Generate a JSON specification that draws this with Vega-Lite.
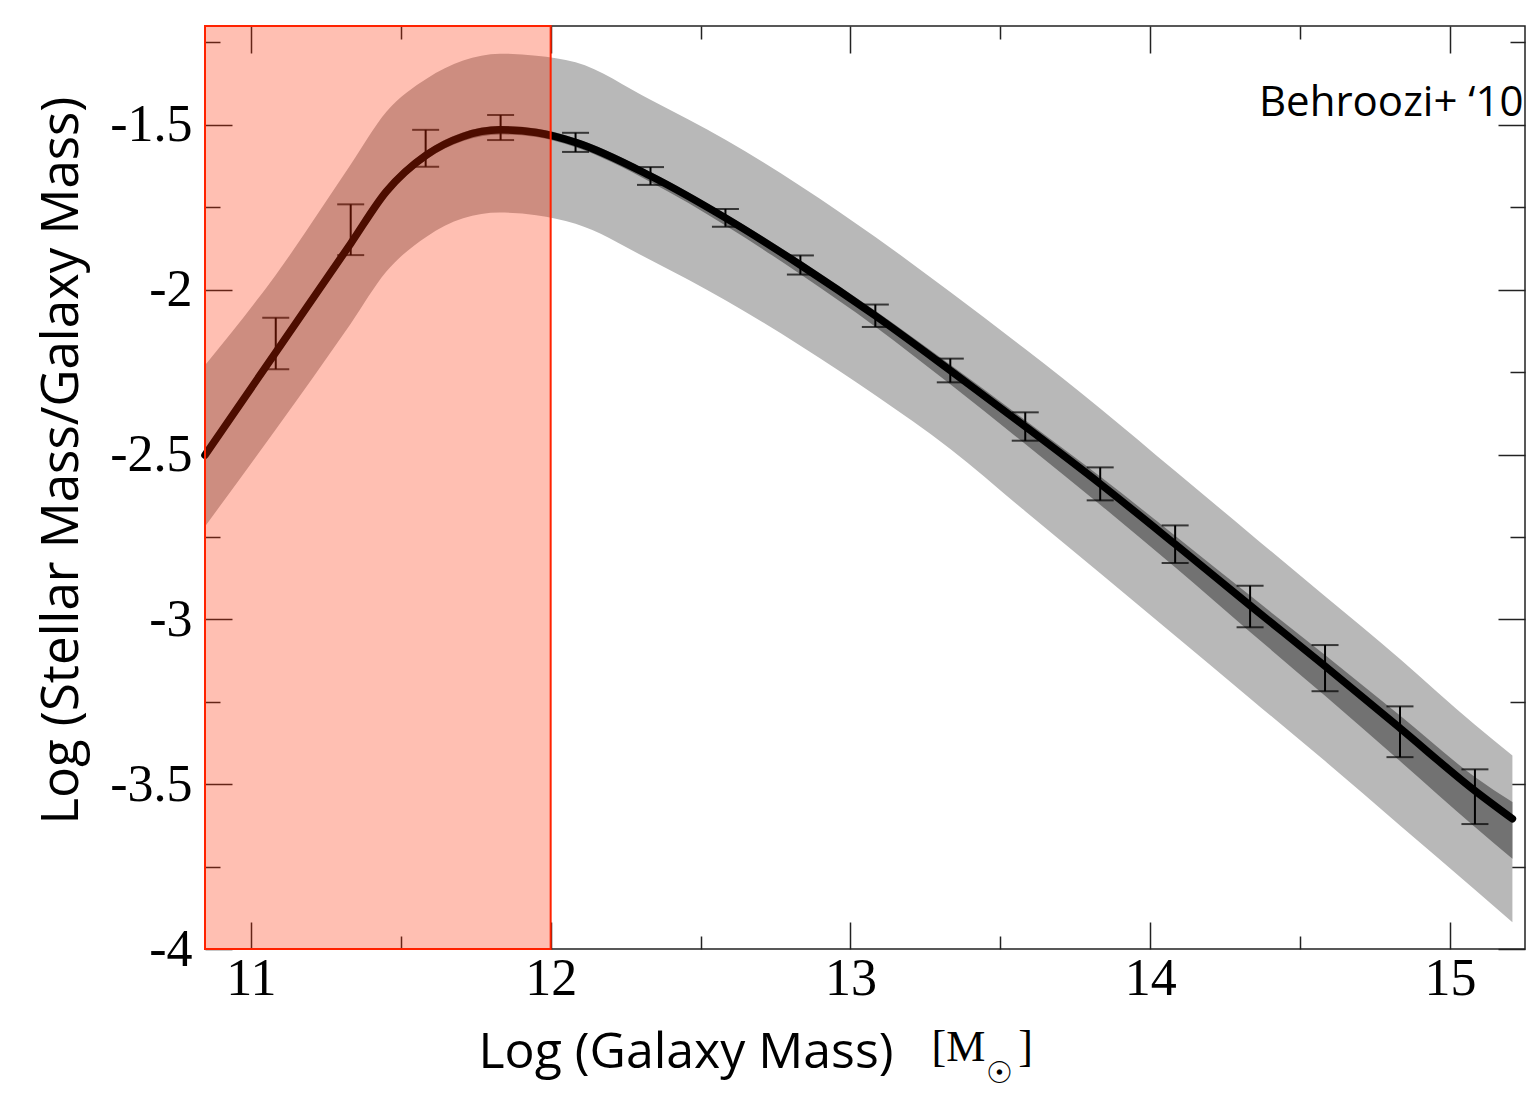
{
  "$schema": "https://vega.github.io/schema/vega-lite/v6.json",
  "width": 1320,
  "height": 923,
  "autosize": {"type": "none"},
  "padding": {"left": 205, "top": 26, "right": 12, "bottom": 168},
  "background": "white",
  "config": {"view": {"stroke": "#222222", "strokeWidth": 1.5}},
  "datasets": {
    "curve": [
      {"x": 10.847, "line": -2.502, "ohi": -2.229, "olo": -2.718, "ihi": -2.487, "ilo": -2.518},
      {"x": 11.083, "line": -2.19, "ohi": -1.955, "olo": -2.424, "ihi": -2.175, "ilo": -2.206},
      {"x": 11.333, "line": -1.86, "ohi": -1.62, "olo": -2.103, "ihi": -1.845, "ilo": -1.876},
      {"x": 11.452, "line": -1.702, "ohi": -1.46, "olo": -1.945, "ihi": -1.688, "ilo": -1.717},
      {"x": 11.586, "line": -1.591, "ohi": -1.36, "olo": -1.839, "ihi": -1.578, "ilo": -1.605},
      {"x": 11.708, "line": -1.535, "ohi": -1.305, "olo": -1.783, "ihi": -1.522, "ilo": -1.549},
      {"x": 11.83, "line": -1.515, "ohi": -1.284, "olo": -1.766, "ihi": -1.503, "ilo": -1.529},
      {"x": 11.952, "line": -1.523, "ohi": -1.29, "olo": -1.774, "ihi": -1.511, "ilo": -1.537},
      {"x": 12.083, "line": -1.553, "ohi": -1.31, "olo": -1.8, "ihi": -1.541, "ilo": -1.568},
      {"x": 12.333, "line": -1.655, "ohi": -1.424, "olo": -1.91, "ihi": -1.643, "ilo": -1.673},
      {"x": 12.583, "line": -1.782, "ohi": -1.545, "olo": -2.032, "ihi": -1.77, "ilo": -1.805},
      {"x": 12.833, "line": -1.925, "ohi": -1.685, "olo": -2.17, "ihi": -1.911, "ilo": -1.953},
      {"x": 13.083, "line": -2.079, "ohi": -1.84, "olo": -2.32, "ihi": -2.064, "ilo": -2.112},
      {"x": 13.333, "line": -2.245, "ohi": -2.007, "olo": -2.483, "ihi": -2.228, "ilo": -2.287},
      {"x": 13.583, "line": -2.415, "ohi": -2.18, "olo": -2.672, "ihi": -2.396, "ilo": -2.468},
      {"x": 13.833, "line": -2.589, "ohi": -2.36, "olo": -2.86, "ihi": -2.567, "ilo": -2.652},
      {"x": 14.083, "line": -2.772, "ohi": -2.55, "olo": -3.05, "ihi": -2.746, "ilo": -2.842},
      {"x": 14.333, "line": -2.958, "ohi": -2.74, "olo": -3.24, "ihi": -2.928, "ilo": -3.038},
      {"x": 14.583, "line": -3.142, "ohi": -2.93, "olo": -3.43, "ihi": -3.108, "ilo": -3.232},
      {"x": 14.833, "line": -3.33, "ohi": -3.12, "olo": -3.625, "ihi": -3.292, "ilo": -3.43},
      {"x": 15.083, "line": -3.52, "ohi": -3.32, "olo": -3.82, "ihi": -3.478, "ilo": -3.63},
      {"x": 15.208, "line": -3.605, "ohi": -3.413, "olo": -3.919, "ihi": -3.554, "ilo": -3.726}
    ],
    "errors": [
      {"x": 11.083, "ehi": -2.085, "elo": -2.241},
      {"x": 11.333, "ehi": -1.741, "elo": -1.895},
      {"x": 11.583, "ehi": -1.515, "elo": -1.627},
      {"x": 11.833, "ehi": -1.47, "elo": -1.546},
      {"x": 12.083, "ehi": -1.524, "elo": -1.582},
      {"x": 12.333, "ehi": -1.628, "elo": -1.682},
      {"x": 12.583, "ehi": -1.755, "elo": -1.809},
      {"x": 12.833, "ehi": -1.896, "elo": -1.954},
      {"x": 13.083, "ehi": -2.045, "elo": -2.113},
      {"x": 13.333, "ehi": -2.209, "elo": -2.281},
      {"x": 13.583, "ehi": -2.372, "elo": -2.458},
      {"x": 13.833, "ehi": -2.539, "elo": -2.639},
      {"x": 14.083, "ehi": -2.715, "elo": -2.829},
      {"x": 14.333, "ehi": -2.898, "elo": -3.024},
      {"x": 14.583, "ehi": -3.078, "elo": -3.218},
      {"x": 14.833, "ehi": -3.264, "elo": -3.418},
      {"x": 15.083, "ehi": -3.455, "elo": -3.621}
    ],
    "region": [
      {"x1": 10.847, "x2": 12.0, "y1": -4, "y2": -1.2}
    ],
    "notes": [
      {"x": 15.245, "y": -1.435, "label": "Behroozi+ ‘10"}
    ]
  },
  "resolve": {"axis": {"x": "independent", "y": "independent"}},
  "layer": [
    {
      "data": {"name": "curve"},
      "mark": {"type": "area", "color": "#b8b8b8", "opacity": 1, "interpolate": "monotone"},
      "encoding": {
        "x": {
          "field": "x", "type": "quantitative",
          "scale": {"domain": [10.847, 15.25], "nice": false, "zero": false},
          "axis": {
            "orient": "bottom",
            "values": [11, 11.5, 12, 12.5, 13, 13.5, 14, 14.5, 15],
            "domain": false, "grid": false,
            "tickColor": "#222222", "tickWidth": 1.5,
            "tickSize": {"condition": {"test": "datum.value % 1 === 0", "value": -27}, "value": -13},
            "labelExpr": "datum.value % 1 === 0 ? '' + datum.value : ''",
            "labelFont": "Liberation Serif", "labelFontSize": 52, "labelColor": "black",
            "labelPadding": 31, "labelOverlap": false, "labelFlush": false,
            "title": "Log (Galaxy Mass)",
            "titleFont": "Open Sans", "titleFontSize": 50, "titleFontWeight": "normal", "titleColor": "black",
            "titleX": 273, "titleY": 118, "titleAlign": "left", "titleBaseline": "alphabetic"
          }
        },
        "y": {
          "field": "ohi", "type": "quantitative",
          "scale": {"domain": [-4, -1.2], "nice": false, "zero": false},
          "axis": {
            "orient": "left",
            "values": [-4, -3.75, -3.5, -3.25, -3, -2.75, -2.5, -2.25, -2, -1.75, -1.5, -1.25],
            "domain": false, "grid": false,
            "tickColor": "#222222", "tickWidth": 1.5,
            "tickSize": {"condition": {"test": "abs(datum.value % 0.5) < 0.000001", "value": -27}, "value": -15},
            "labelExpr": "abs(datum.value % 0.5) < 0.000001 ? '' + datum.value : ''",
            "labelFont": "Liberation Serif", "labelFontSize": 52, "labelColor": "black",
            "labelPadding": 40, "labelOverlap": false, "labelFlush": false,
            "title": "Log (Stellar Mass/Galaxy Mass)",
            "titleFont": "Open Sans", "titleFontSize": 51, "titleFontWeight": "normal", "titleColor": "black",
            "titleX": -143, "titleY": 434, "titleAlign": "center", "titleBaseline": "middle", "titleAngle": 270
          }
        },
        "y2": {"field": "olo"}
      }
    },
    {
      "data": {"name": "curve"},
      "mark": {"type": "area", "color": "#727272", "opacity": 1, "interpolate": "monotone"},
      "encoding": {
        "x": {
          "field": "x", "type": "quantitative",
          "axis": {
            "orient": "top",
            "values": [11, 11.5, 12, 12.5, 13, 13.5, 14, 14.5, 15],
            "domain": false, "grid": false, "labels": false, "title": null,
            "tickColor": "#222222", "tickWidth": 1.5,
            "tickSize": {"condition": {"test": "datum.value % 1 === 0", "value": -27}, "value": -13}
          }
        },
        "y": {
          "field": "ihi", "type": "quantitative",
          "axis": {
            "orient": "right",
            "values": [-4, -3.75, -3.5, -3.25, -3, -2.75, -2.5, -2.25, -2, -1.75, -1.5, -1.25],
            "domain": false, "grid": false, "labels": false, "title": null,
            "tickColor": "#222222", "tickWidth": 1.5,
            "tickSize": {"condition": {"test": "abs(datum.value % 0.5) < 0.000001", "value": -27}, "value": -15}
          }
        },
        "y2": {"field": "ilo"}
      }
    },
    {
      "data": {"name": "curve"},
      "mark": {"type": "line", "color": "black", "strokeWidth": 7.5, "strokeJoin": "round", "strokeCap": "round", "interpolate": "monotone"},
      "encoding": {
        "x": {"field": "x", "type": "quantitative", "axis": null},
        "y": {"field": "line", "type": "quantitative", "axis": null}
      }
    },
    {
      "data": {"name": "errors"},
      "mark": {"type": "errorbar", "ticks": true, "color": "black", "thickness": 2, "size": 27},
      "encoding": {
        "x": {"field": "x", "type": "quantitative", "axis": null},
        "y": {"field": "ehi", "type": "quantitative", "axis": null},
        "y2": {"field": "elo"}
      }
    },
    {
      "data": {"name": "region"},
      "mark": {"type": "rect", "fill": "#ff2a00", "fillOpacity": 0.3, "stroke": "#ff2200", "strokeWidth": 2},
      "encoding": {
        "x": {
          "field": "x1", "type": "quantitative",
          "axis": {
            "orient": "bottom", "domain": false, "ticks": false, "labels": false, "grid": false,
            "title": "[M\u00a0\u00a0\u00a0]",
            "titleFont": "Liberation Serif", "titleFontSize": 44, "titleFontWeight": "normal", "titleColor": "black",
            "titleX": 726, "titleY": 111, "titleAlign": "left", "titleBaseline": "alphabetic"
          }
        },
        "x2": {"field": "x2"},
        "y": {"field": "y1", "type": "quantitative", "axis": null},
        "y2": {"field": "y2"}
      }
    },
    {
      "data": {"name": "notes"},
      "mark": {"type": "text", "font": "Open Sans", "fontSize": 42, "color": "black", "align": "right", "baseline": "middle"},
      "encoding": {
        "x": {
          "field": "x", "type": "quantitative",
          "axis": {
            "orient": "bottom", "domain": false, "ticks": false, "labels": false, "grid": false,
            "title": "☉",
            "titleFont": "DejaVu Serif", "titleFontSize": 30, "titleFontWeight": "normal", "titleColor": "black",
            "titleX": 794, "titleY": 124, "titleAlign": "center", "titleBaseline": "middle"
          }
        },
        "y": {"field": "y", "type": "quantitative", "axis": null},
        "text": {"field": "label"}
      }
    }
  ]
}
